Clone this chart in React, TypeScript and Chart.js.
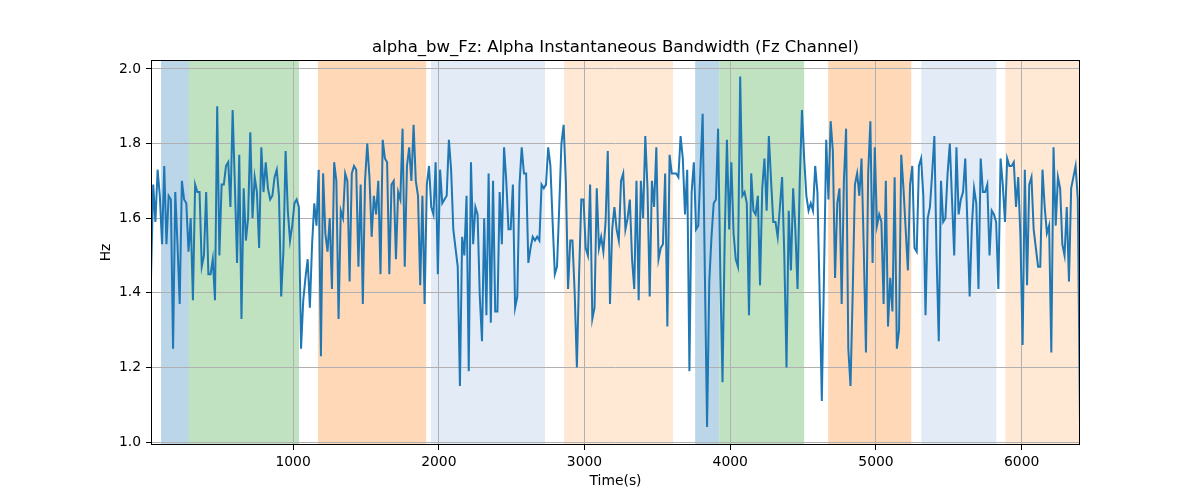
import { useEffect, useRef } from "react";
import { Chart, registerables } from "chart.js";
Chart.register(...registerables);

// sampled alpha bandwidth (Hz), evenly spaced between T_START and T_END
const T_START = 25;
const T_END = 6400;
const bwHz = [
  1.44, 1.69, 1.59, 1.73, 1.66, 1.53, 1.74, 1.53, 1.66, 1.65, 1.25, 1.67, 1.53, 1.37, 1.70, 1.65, 1.64, 1.51, 1.60, 1.38,
  1.69, 1.67, 1.67, 1.47, 1.50, 1.67, 1.45, 1.45, 1.49, 1.38, 1.90, 1.50, 1.69, 1.69, 1.74, 1.75, 1.63, 1.89, 1.69, 1.48,
  1.77, 1.33, 1.68, 1.54, 1.60, 1.83, 1.60, 1.71, 1.67, 1.52, 1.79, 1.67,
  1.75, 1.68, 1.65, 1.66, 1.71, 1.73, 1.66, 1.39, 1.51, 1.78, 1.62, 1.54, 1.58, 1.64, 1.65, 1.63, 1.25, 1.38, 1.44, 1.49,
  1.36, 1.53, 1.64, 1.58, 1.73, 1.23, 1.72, 1.56, 1.51, 1.60, 1.41, 1.75, 1.70, 1.33, 1.62, 1.60, 1.72, 1.70, 1.43, 1.72,
  1.74, 1.73, 1.47, 1.69, 1.37, 1.70, 1.80, 1.71, 1.55, 1.66, 1.61, 1.70, 1.45, 1.81,
  1.76, 1.75, 1.45, 1.69, 1.70, 1.49, 1.67, 1.65, 1.84, 1.47, 1.74, 1.79, 1.70, 1.85, 1.70, 1.66, 1.42, 1.66, 1.37, 1.69,
  1.74, 1.63, 1.61, 1.75, 1.45, 1.73, 1.64, 1.65, 1.66, 1.81, 1.73, 1.57, 1.52, 1.47, 1.15, 1.55, 1.50, 1.66, 1.19, 1.75,
  1.53, 1.63, 1.61, 1.39, 1.27, 1.60, 1.34, 1.72, 1.32, 1.70, 1.35, 1.35, 1.67,
  1.53, 1.79, 1.70, 1.57, 1.57, 1.69, 1.36, 1.39, 1.69, 1.79, 1.72, 1.72, 1.48, 1.52, 1.55, 1.54, 1.55, 1.54, 1.69, 1.68,
  1.69, 1.79, 1.74, 1.59, 1.45, 1.47, 1.63, 1.80, 1.85, 1.70, 1.41, 1.54, 1.54, 1.40, 1.20, 1.45, 1.65, 1.65, 1.52, 1.50,
  1.69, 1.33, 1.36, 1.68, 1.52, 1.55, 1.51, 1.59, 1.78, 1.37, 1.57, 1.63, 1.57,
  1.54, 1.70, 1.72, 1.57, 1.60, 1.65, 1.49, 1.41, 1.70, 1.38, 1.70, 1.60, 1.82, 1.68, 1.39, 1.70, 1.63, 1.79, 1.49, 1.52,
  1.53, 1.72, 1.31, 1.77, 1.72, 1.72, 1.72, 1.71, 1.82, 1.76, 1.61, 1.73, 1.19, 1.67, 1.75, 1.57, 1.58, 1.73, 1.88, 1.45,
  1.04, 1.43, 1.55, 1.64, 1.65, 1.84, 1.45, 1.16, 1.55, 1.81, 1.57, 1.75, 1.56, 1.49,
  1.47, 1.98, 1.66, 1.67, 1.64, 1.34, 1.72, 1.62, 1.61, 1.66, 1.42, 1.68, 1.76, 1.62, 1.82, 1.70, 1.59, 1.59, 1.55, 1.63,
  1.71, 1.50, 1.20, 1.62, 1.46, 1.68, 1.57, 1.41, 1.70, 1.89, 1.76, 1.66, 1.62, 1.64, 1.62, 1.74, 1.67, 1.40, 1.11, 1.45,
  1.81, 1.65, 1.86, 1.78, 1.44, 1.64, 1.68, 1.37, 1.70, 1.84, 1.25, 1.15, 1.40,
  1.69, 1.72, 1.66, 1.76, 1.52, 1.24, 1.72, 1.86, 1.48, 1.79, 1.58, 1.61, 1.59, 1.37, 1.70, 1.31, 1.44, 1.35, 1.71, 1.25,
  1.30, 1.77, 1.68, 1.57, 1.46, 1.69, 1.74, 1.52, 1.51, 1.74, 1.76, 1.66, 1.34, 1.60, 1.63, 1.72, 1.82, 1.50, 1.27, 1.70,
  1.59, 1.60, 1.72, 1.80, 1.65, 1.50, 1.79, 1.61, 1.65, 1.67, 1.76, 1.58, 1.39,
  1.58, 1.68, 1.64, 1.41, 1.76, 1.67, 1.67, 1.69, 1.50, 1.62, 1.61, 1.59, 1.41, 1.76, 1.69, 1.59, 1.76, 1.74, 1.74, 1.75,
  1.63, 1.71, 1.55, 1.26, 1.73, 1.42, 1.69, 1.71, 1.57, 1.52, 1.47, 1.47, 1.73, 1.63, 1.56, 1.58, 1.24, 1.79, 1.58, 1.71,
  1.68, 1.53, 1.50, 1.63, 1.43, 1.68, 1.71, 1.74, 1.65, 1.05,
];

// shaded segments: start, end (s) and colour
const spanStart = [94, 286, 1171, 1946, 2860, 3759, 3924, 4672, 5311, 5888];
const spanEnd = [286, 1041, 1913, 2729, 3608, 3924, 4507, 5242, 5826, 6400];
const spanColor = [
  "rgb(188,214,233)", "rgb(192,226,192)", "rgb(255,216,183)", "rgb(226,235,246)", "rgb(255,233,213)",
  "rgb(188,214,233)", "rgb(192,226,192)", "rgb(255,216,183)", "rgb(226,235,246)", "rgb(255,233,213)",
];

const xTicks = [1000, 2000, 3000, 4000, 5000, 6000];
const yTicks = [1.0, 1.2, 1.4, 1.6, 1.8, 2.0];

const FONT = "'DejaVu Sans', sans-serif";

const spansPlugin = {
  id: "spans",
  beforeDraw(chart: any) {
    const { ctx, chartArea, scales } = chart;
    ctx.save();
    spanStart.forEach((s, i) => {
      const x0 = scales.x.getPixelForValue(s);
      const x1 = scales.x.getPixelForValue(spanEnd[i]);
      ctx.fillStyle = spanColor[i];
      ctx.fillRect(x0, chartArea.top, x1 - x0, chartArea.bottom - chartArea.top);
    });
    ctx.restore();
  },
  afterDraw(chart: any) {
    const { ctx, chartArea } = chart;
    ctx.save();
    ctx.strokeStyle = "#000";
    ctx.lineWidth = 1;
    ctx.strokeRect(chartArea.left + 0.5, chartArea.top + 0.5, chartArea.right - chartArea.left - 1, chartArea.bottom - chartArea.top - 1);
    ctx.fillStyle = "#000";
    ctx.textAlign = "center";
    ctx.textBaseline = "alphabetic";
    ctx.font = `16.5px ${FONT}`;
    const cx = (chartArea.left + chartArea.right) / 2;
    ctx.fillText("alpha_bw_Fz: Alpha Instantaneous Bandwidth (Fz Channel)", cx, 52);
    ctx.font = `13.9px ${FONT}`;
    ctx.textBaseline = "middle";
    ctx.fillText("Time(s)", cx, 481);
    ctx.translate(106, (chartArea.top + chartArea.bottom) / 2);
    ctx.rotate(-Math.PI / 2);
    ctx.fillText("Hz", 0, 0);
    ctx.restore();
  },
};

export default function App() {
  const ref = useRef<HTMLCanvasElement | null>(null);

  useEffect(() => {
    if (!ref.current) return;
    const step = (T_END - T_START) / (bwHz.length - 1);
    const points = bwHz.map((v, i) => ({ x: T_START + i * step, y: v }));

    const chart = new Chart(ref.current, {
      type: "line",
      data: {
        datasets: [
          {
            data: points,
            borderColor: "#1f77b4",
            borderWidth: 2,
            pointRadius: 0,
            tension: 0,
            fill: false,
          },
        ],
      },
      options: {
        animation: false,
        responsive: false,
        devicePixelRatio: 1,
        layout: { padding: { left: 0, right: 120, top: 60, bottom: 0 } },
        plugins: { legend: { display: false }, tooltip: { enabled: false }, title: { display: false } },
        scales: {
          x: {
            type: "linear",
            min: T_START,
            max: T_END,
            afterBuildTicks: (s: any) => { s.ticks = xTicks.map((v) => ({ value: v })); },
            afterFit: (s: any) => { s.height = 55; },
            grid: { color: "#b0b0b0", lineWidth: 1, drawTicks: true, tickLength: 5, tickColor: "#000" },
            border: { display: false },
            ticks: { color: "#000", padding: 4, maxRotation: 0, font: { family: FONT, size: 13.9 }, callback: (v: any) => String(v) },
          },
          y: {
            type: "linear",
            min: 0.992,
            max: 2.024,
            afterBuildTicks: (s: any) => { s.ticks = yTicks.map((v) => ({ value: v })); },
            afterFit: (s: any) => { s.width = 151; },
            grid: { color: "#b0b0b0", lineWidth: 1, drawTicks: true, tickLength: 5, tickColor: "#000" },
            border: { display: false },
            ticks: { color: "#000", padding: 5, font: { family: FONT, size: 13.9 }, callback: (v: any) => Number(v).toFixed(1) },
          },
        },
      },
      plugins: [spansPlugin],
    });

    return () => chart.destroy();
  }, []);

  return (
    <div style={{ position: "fixed", left: 0, top: 0, width: 1200, height: 500, background: "#fff" }}>
      <canvas ref={ref} width={1200} height={500} style={{ width: 1200, height: 500 }} />
    </div>
  );
}
